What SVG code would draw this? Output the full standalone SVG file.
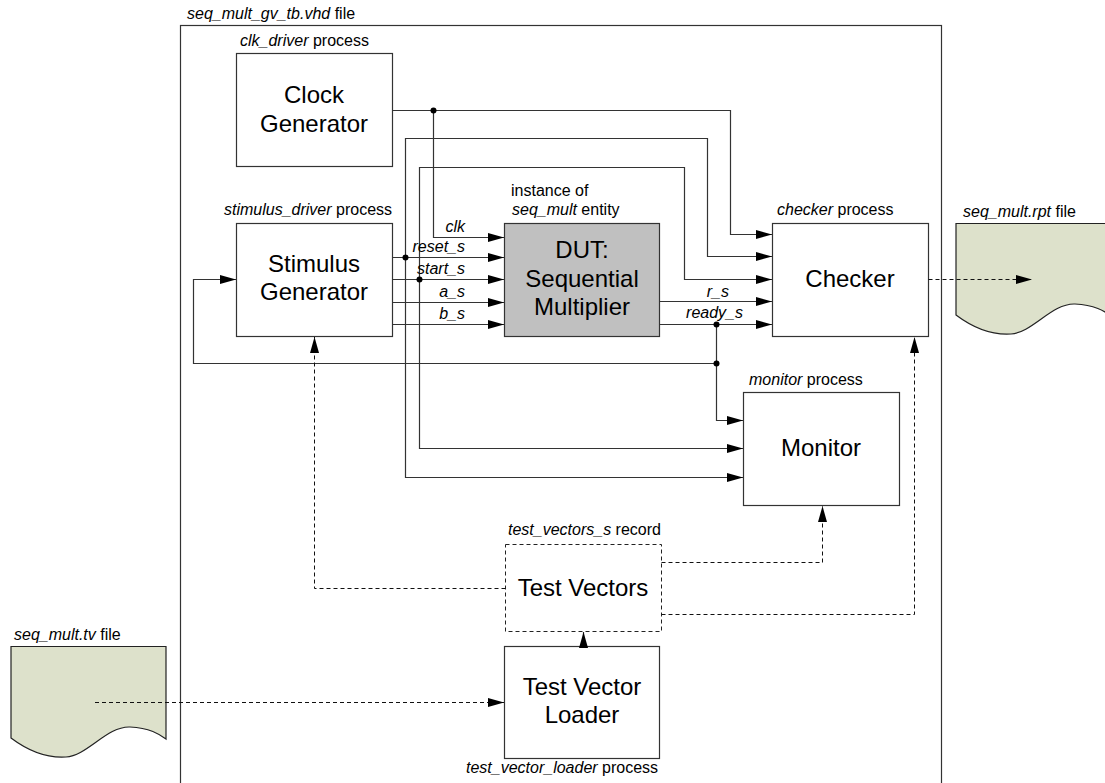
<svg xmlns="http://www.w3.org/2000/svg" width="1105" height="783" viewBox="0 0 1105 783">
<style>
.box{fill:#fff;stroke:#333;stroke-width:1.2}
.dut{fill:#c0c0c0;stroke:#333;stroke-width:1.2}
.file{fill:#dde1cb;stroke:#222;stroke-width:1.2}
.dbox{fill:#fff;stroke:#222;stroke-width:1;stroke-dasharray:4,3}
.ln{fill:none;stroke:#333;stroke-width:1.2}
.dl{fill:none;stroke:#111;stroke-width:1;stroke-dasharray:4,3}
.t{font-family:"Liberation Sans",Arial,sans-serif;font-size:16px;fill:#000}
.i{font-style:italic}
.big{font-family:"Liberation Sans",Arial,sans-serif;font-size:24px;fill:#000;text-anchor:middle}
.dot{fill:#000}
</style>
<defs>
<marker id="ah" markerUnits="userSpaceOnUse" markerWidth="16" markerHeight="9" refX="16" refY="4.5" orient="auto">
<path d="M0,0 L16,4.5 L0,9 z" fill="#000"/>
</marker>
</defs>

<g id="outer">
<rect x="180.5" y="25.5" width="761" height="780" fill="none" stroke="#333" stroke-width="1.2"/>
<text class="t" x="187" y="19"><tspan class="i">seq_mult_gv_tb.vhd</tspan> file</text>
</g>

<g id="clock">
<text class="t" x="240" y="46"><tspan class="i">clk_driver</tspan> process</text>
<rect class="box" x="236.5" y="53.5" width="156" height="113"/>
<text class="big" x="314" y="103">Clock</text>
<text class="big" x="314" y="132">Generator</text>
</g>

<g id="stimulus">
<text class="t" x="224" y="215"><tspan class="i">stimulus_driver</tspan> process</text>
<rect class="box" x="236.5" y="223.5" width="156" height="113"/>
<text class="big" x="314" y="272">Stimulus</text>
<text class="big" x="314" y="300">Generator</text>
</g>

<g id="dut">
<text class="t" x="511" y="196">instance of</text>
<text class="t" x="512" y="215"><tspan class="i">seq_mult</tspan> entity</text>
<rect class="dut" x="504.5" y="223.5" width="155" height="113"/>
<text class="big" x="582" y="258">DUT:</text>
<text class="big" x="582" y="287">Sequential</text>
<text class="big" x="582" y="315">Multiplier</text>
</g>

<g id="checker">
<text class="t" x="777" y="215"><tspan class="i">checker</tspan> process</text>
<rect class="box" x="772.5" y="223.5" width="156" height="113"/>
<text class="big" x="850" y="287">Checker</text>
</g>

<g id="rptfile">
<text class="t" x="963" y="217"><tspan class="i">seq_mult.rpt</tspan> file</text>
<path class="file" d="M956,223.5 H1111 V316 C1104,311 1095,305 1075,304 C1052,303 1032,333 1011,334 C996,335 976,330 956,315 Z"/>
</g>

<g id="monitor">
<text class="t" x="749" y="385"><tspan class="i">monitor</tspan> process</text>
<rect class="box" x="743.5" y="392.5" width="156" height="113"/>
<text class="big" x="821" y="456">Monitor</text>
</g>

<g id="testvectors">
<text class="t" x="508" y="535"><tspan class="i">test_vectors_s</tspan> record</text>
<rect class="dbox" x="505.5" y="544.5" width="156" height="87"/>
<text class="big" x="583" y="596">Test Vectors</text>
</g>

<g id="loader">
<rect class="box" x="504.5" y="646.5" width="155" height="112"/>
<text class="big" x="582" y="695">Test Vector</text>
<text class="big" x="582" y="723">Loader</text>
<text class="t" x="466" y="773"><tspan class="i">test_vector_loader</tspan> process</text>
</g>

<g id="tvfile">
<text class="t" x="14" y="640"><tspan class="i">seq_mult.tv</tspan> file</text>
<path class="file" d="M11,646.5 H166 V739 C159,734 150,728 130,727 C107,726 87,756 66,757 C51,758 31,753 11,738 Z"/>
</g>

<g id="connectors">
<!-- clk -->
<path class="ln" d="M392.5,110.5 H730.5 V234.5 H772" marker-end="url(#ah)"/>
<path class="ln" d="M433.5,110.5 V237.5 H504" marker-end="url(#ah)"/>
<!-- reset_s -->
<path class="ln" d="M392.5,257.5 H504" marker-end="url(#ah)"/>
<path class="ln" d="M405.5,257.5 V138.5 H707.5 V256.5 H772" marker-end="url(#ah)"/>
<path class="ln" d="M405.5,257.5 V477.5 H743" marker-end="url(#ah)"/>
<!-- start_s -->
<path class="ln" d="M392.5,279.5 H504" marker-end="url(#ah)"/>
<path class="ln" d="M419.5,279.5 V167.5 H684.5 V279.5 H772" marker-end="url(#ah)"/>
<path class="ln" d="M419.5,279.5 V448.5 H743" marker-end="url(#ah)"/>
<!-- a_s, b_s -->
<path class="ln" d="M392.5,302.5 H504" marker-end="url(#ah)"/>
<path class="ln" d="M392.5,324.5 H504" marker-end="url(#ah)"/>
<!-- r_s, ready_s -->
<path class="ln" d="M659.5,301.5 H772" marker-end="url(#ah)"/>
<path class="ln" d="M659.5,324.5 H772" marker-end="url(#ah)"/>
<path class="ln" d="M716.5,324.5 V420.5 H743" marker-end="url(#ah)"/>
<path class="ln" d="M716.5,363.5 H193.5 V279.5 H236" marker-end="url(#ah)"/>
<circle class="dot" cx="433.5" cy="110.5" r="3"/>
<circle class="dot" cx="405.5" cy="257.5" r="3"/>
<circle class="dot" cx="419.5" cy="279.5" r="3"/>
<circle class="dot" cx="716.5" cy="324.5" r="3"/>
<circle class="dot" cx="716.5" cy="363.5" r="3"/>
<!-- signal labels -->
<g class="t i" text-anchor="end">
<text x="465" y="232">clk</text>
<text x="465" y="252">reset_s</text>
<text x="465" y="274">start_s</text>
<text x="465" y="297">a_s</text>
<text x="465" y="319">b_s</text>
<text x="729" y="297">r_s</text>
<text x="743" y="318">ready_s</text>
</g>
<!-- dashed -->
<path class="dl" d="M928.5,279.5 H1032" marker-end="url(#ah)"/>
<path class="dl" d="M95,702.5 H504" marker-end="url(#ah)"/>
<path class="dl" d="M505.5,588.5 H314.5 V337" marker-end="url(#ah)"/>
<path class="dl" d="M661.5,562.5 H822.5 V506" marker-end="url(#ah)"/>
<path class="dl" d="M661.5,614.5 H914.5 V337" marker-end="url(#ah)"/>
<!-- loader to test vectors -->
<path class="ln" d="M583.5,646.5 V632" marker-end="url(#ah)"/>
</g>
</svg>
